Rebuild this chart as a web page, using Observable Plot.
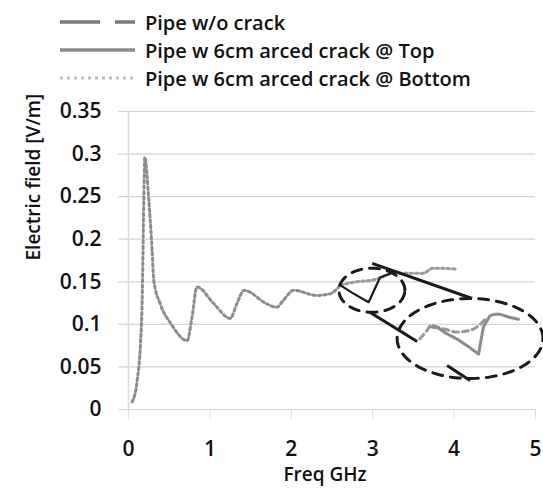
<!DOCTYPE html>
<html>
<head>
<meta charset="utf-8">
<script src="https://cdn.jsdelivr.net/npm/d3@7"></script>
<script src="https://cdn.jsdelivr.net/npm/@observablehq/plot@0.6"></script>
<style>
  html, body { margin: 0; padding: 0; background: #fff; }
  body { width: 543px; height: 489px; overflow: hidden; font-family: "Open Sans", sans-serif; }
  #legend { height: 88px; position: relative; }
  .row { position: absolute; left: 60px; height: 26px; display: flex; align-items: center; }
  .row span { margin-left: 10px; font-size: 20px; color: #111; font-weight: 600; white-space: nowrap; }
</style>
</head>
<body>
<div id="legend"></div>
<div id="chart"></div>
<script>
// ---- data ----
const seriesNames = ["Pipe w/o crack", "Pipe w 6cm arced crack @ Top", "Pipe w 6cm arced crack @ Bottom"];

// common main curve (all three overlap here)
const freqMain = [0.045, 0.107, 0.147, 0.168, 0.188, 0.2, 0.25, 0.29, 0.31, 0.39, 0.52, 0.72, 0.78, 0.84, 1.05, 1.25, 1.33, 1.42, 1.70, 1.82, 1.9, 2.03, 2.31, 2.48, 2.6];
const eMain    = [0.009, 0.034, 0.077, 0.128, 0.245, 0.296, 0.245, 0.187, 0.152, 0.124, 0.101, 0.081, 0.108, 0.144, 0.124, 0.107, 0.124, 0.14, 0.124, 0.12, 0.128, 0.14, 0.134, 0.136, 0.146];

// bottom-crack / no-crack continuation after 2.6 GHz
const freqCont = [2.6, 2.8, 3.0, 3.1, 3.25, 3.5, 3.62, 3.74, 4.03];
const eCont    = [0.146, 0.15, 0.152, 0.155, 0.16, 0.16, 0.16, 0.166, 0.165];

// top-crack dip inside the small ellipse
const freqDip = [2.6, 2.75, 2.95, 3.09, 3.25];
const eDip    = [0.146, 0.137, 0.126, 0.155, 0.161];

// magnified view inside the large ellipse
const freqInsetTop = [3.72, 3.8, 3.91, 4.05, 4.16, 4.3, 4.36, 4.44, 4.5, 4.56, 4.69, 4.79];
const eInsetTop    = [0.097, 0.096, 0.089, 0.082, 0.075, 0.065, 0.097, 0.11, 0.112, 0.112, 0.108, 0.106];
const freqInsetNo  = [3.58, 3.66, 3.72, 3.79, 3.9, 4.03, 4.2, 4.32, 4.4];
const eInsetNo     = [0.083, 0.092, 0.099, 0.097, 0.094, 0.091, 0.093, 0.1, 0.108];

// annotation: callout ellipses (centre, radii in data units) and connecting lines
const ellCx = [2.99, 4.196];
const ellCy = [0.140, 0.0834];
const ellRx = [0.405, 0.896];
const ellRy = [0.0259, 0.047];
const lineX1 = [2.994, 2.969, 3.914];
const lineY1 = [0.1716, 0.114, 0.0517];
const lineX2 = [4.221, 3.546, 4.196];
const lineY2 = [0.1304, 0.0799, 0.0341];

const xTicks = [0, 1, 2, 3, 4, 5];
const yTicks = [0, 0.05, 0.1, 0.15, 0.2, 0.25, 0.3, 0.35];

// ---- build tables ----
const zip = (xs, ys) => xs.map((x, i) => ({x, y: ys[i]}));
const mainData = zip(freqMain, eMain);
const contData = zip(freqCont, eCont);
const dipData = zip(freqDip, eDip);
const insetTop = zip(freqInsetTop, eInsetTop);
const insetNo = zip(freqInsetNo, eInsetNo);
const ellipsePts = [];
ellCx.forEach((cx, k) => {
  for (let i = 0; i <= 72; i++) {
    const t = (i / 72) * 2 * Math.PI;
    ellipsePts.push({k, x: cx + ellRx[k] * Math.cos(t), y: ellCy[k] + ellRy[k] * Math.sin(t)});
  }
});
const calloutLines = lineX1.map((x1, i) => ({x1, y1: lineY1[i], x2: lineX2[i], y2: lineY2[i]}));

// ---- legend ----
const legend = document.getElementById("legend");
const swatches = [
  `<svg width="75" height="6"><line x1="0" y1="3" x2="40" y2="3" stroke="#7a7a7a" stroke-width="3.5"/><line x1="55" y1="3" x2="75" y2="3" stroke="#7a7a7a" stroke-width="3.5"/></svg>`,
  `<svg width="75" height="6"><line x1="0" y1="3" x2="75" y2="3" stroke="#8a8a8a" stroke-width="3.5"/></svg>`,
  `<svg width="75" height="6"><line x1="0" y1="3" x2="75" y2="3" stroke="#bdbdbd" stroke-width="3" stroke-dasharray="3,4"/></svg>`
];
const rowTops = [9, 37, 65];
seriesNames.forEach((name, i) => {
  const d = document.createElement("div");
  d.className = "row";
  d.style.top = rowTops[i] + "px";
  d.innerHTML = swatches[i] + `<span>${name}</span>`;
  legend.appendChild(d);
});

// ---- chart ----
const chart = Plot.plot({
  width: 543,
  height: 401,
  marginLeft: 128,
  marginRight: 8,
  marginTop: 23,
  marginBottom: 80,
  style: {fontFamily: "'Open Sans', sans-serif", fontSize: "21px", fontWeight: 600, color: "#111", background: "#fff", overflow: "visible"},
  x: {domain: [0, 5]},
  y: {domain: [0, 0.35]},
  marks: [
    Plot.gridY(yTicks, {stroke: "#d4d4d4", strokeOpacity: 1, strokeWidth: 1.2, x1: -0.12, x2: 5}),
    Plot.ruleX([0], {stroke: "#dcdcdc", strokeWidth: 1.5}),
    Plot.axisX(xTicks, {tickSize: 10, stroke: "#dcdcdc", tickPadding: 0, text: null}),
    Plot.axisX(xTicks, {tickSize: 0, tickPadding: 32, label: null, fontSize: 21, tickFormat: d3.format("d")}),
    Plot.axisY(yTicks, {tickSize: 0, tickPadding: 27, label: null, fontSize: 21, tickFormat: d => String(d)}),
    Plot.text(["Electric field [V/m]"], {frameAnchor: "left", dx: -95, rotate: -90, fontSize: 19, fill: "#111"}),
    Plot.text(["Freq GHz"], {frameAnchor: "bottom", dy: 71, dx: -7, fontSize: 19, fill: "#111"}),
    // main curve (overlapping series)
    Plot.line(mainData, {x: "x", y: "y", stroke: "#8c8c8c", strokeWidth: 3, strokeDasharray: "2.5,3", curve: "monotone-x"}),
    Plot.line(contData, {x: "x", y: "y", stroke: "#9a9a9a", strokeWidth: 3, strokeDasharray: "2.5,3", curve: "monotone-x"}),
    Plot.line(dipData, {x: "x", y: "y", stroke: "#1a1a1a", strokeWidth: 2.2, curve: "linear"}),
    // magnified inset
    Plot.line(insetNo, {x: "x", y: "y", stroke: "#9a9a9a", strokeWidth: 3, strokeDasharray: "6,4", curve: "monotone-x"}),
    Plot.line(insetTop, {x: "x", y: "y", stroke: "#8a8a8a", strokeWidth: 3, curve: "linear"}),
    // callout annotation
    Plot.line(ellipsePts, {x: "x", y: "y", z: "k", stroke: "#1a1a1a", strokeWidth: 3, strokeDasharray: "10,8", curve: "linear"}),
    Plot.link(calloutLines, {x1: "x1", y1: "y1", x2: "x2", y2: "y2", stroke: "#1a1a1a", strokeWidth: 3})
  ]
});
document.getElementById("chart").appendChild(chart);
</script>
</body>
</html>
